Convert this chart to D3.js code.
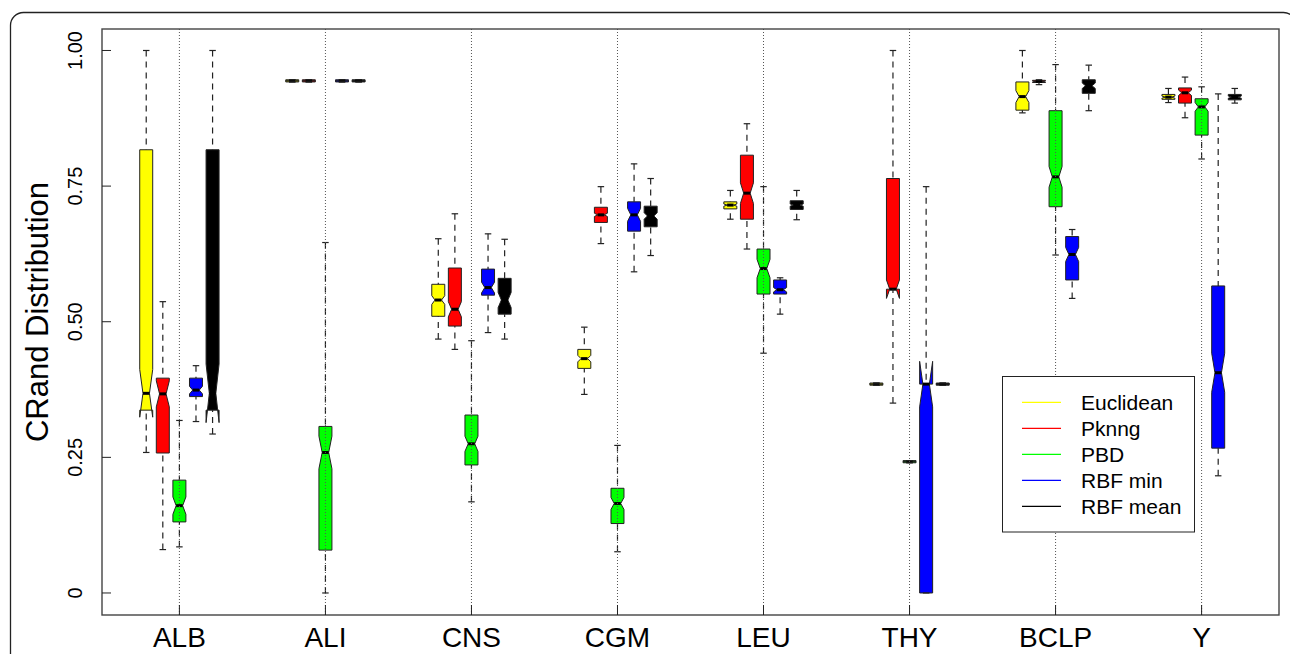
<!DOCTYPE html>
<html><head><meta charset="utf-8">
<script src="https://cdn.jsdelivr.net/npm/d3@7"></script>
<style>html,body{margin:0;padding:0;background:#fff;} svg{display:block;font-family:"Liberation Sans",Arial,Helvetica,sans-serif;}</style>
</head><body><svg id="chart" width="1290" height="654"></svg>
<script>
// ---- data ----
const categories = ["ALB", "ALI", "CNS", "CGM", "LEU", "THY", "BCLP", "Y"];
const seriesNames = ["Euclidean", "Pknng", "PBD", "RBF min", "RBF mean"];
const yTicks = [0, 0.25, 0.5, 0.75, 1];
const yTickLabels = ["0", "0.25", "0.50", "0.75", "1.00"];
const yTitle = "CRand Distribution";
// each box: [lower whisker, lower hinge, median, upper hinge, upper whisker, notch half-width]
const euclidean = [
  [0.259, 0.337, 0.368, 0.817, 1.000, 0.044],
  [0.942, 0.942, 0.944, 0.946, 0.946, 0],
  [0.468, 0.510, 0.540, 0.569, 0.653, 0.008],
  [0.366, 0.414, 0.432, 0.449, 0.490, 0.006],
  [0.689, 0.708, 0.715, 0.721, 0.742, 0.002],
  [0.383, 0.383, 0.385, 0.387, 0.387, 0],
  [0.885, 0.890, 0.915, 0.942, 1.000, 0.011],
  [0.904, 0.910, 0.914, 0.919, 0.930, 0.002]
];
const pknng = [
  [0.080, 0.258, 0.367, 0.396, 0.537, 0.024],
  [0.942, 0.942, 0.944, 0.946, 0.946, 0],
  [0.449, 0.492, 0.523, 0.599, 0.699, 0.014],
  [0.644, 0.683, 0.697, 0.711, 0.749, 0.003],
  [0.634, 0.689, 0.737, 0.807, 0.865, 0.019],
  [0.350, 0.560, 0.560, 0.764, 1.000, 0.017],
  [0.937, 0.941, 0.943, 0.945, 0.946, 0.001],
  [0.876, 0.903, 0.922, 0.931, 0.951, 0.005]
];
const pbd = [
  [0.085, 0.131, 0.161, 0.208, 0.318, 0.016],
  [0.000, 0.079, 0.259, 0.307, 0.646, 0.030],
  [0.168, 0.236, 0.275, 0.328, 0.465, 0.014],
  [0.076, 0.128, 0.165, 0.193, 0.272, 0.011],
  [0.442, 0.551, 0.598, 0.634, 0.749, 0.017],
  [0.240, 0.240, 0.242, 0.244, 0.244, 0],
  [0.623, 0.712, 0.767, 0.889, 0.974, 0.019],
  [0.800, 0.844, 0.896, 0.911, 0.933, 0.008]
];
const rbfMin = [
  [0.316, 0.362, 0.374, 0.396, 0.419, 0.007],
  [0.942, 0.942, 0.944, 0.946, 0.946, 0],
  [0.480, 0.549, 0.563, 0.597, 0.662, 0.010],
  [0.592, 0.667, 0.697, 0.721, 0.791, 0.012],
  [0.514, 0.551, 0.559, 0.577, 0.581, 0.004],
  [0.000, 0.000, 0.385, 0.385, 0.749, 0.042],
  [0.543, 0.577, 0.624, 0.657, 0.670, 0.013],
  [0.216, 0.267, 0.406, 0.566, 0.920, 0.036]
];
const rbfMean = [
  [0.293, 0.337, 0.368, 0.817, 1.000, 0.054],
  [0.942, 0.942, 0.944, 0.946, 0.946, 0],
  [0.468, 0.514, 0.540, 0.580, 0.652, 0.014],
  [0.622, 0.675, 0.695, 0.713, 0.764, 0.006],
  [0.688, 0.707, 0.715, 0.723, 0.742, 0.002],
  [0.383, 0.383, 0.385, 0.387, 0.387, 0],
  [0.889, 0.921, 0.935, 0.946, 0.973, 0.005],
  [0.903, 0.909, 0.914, 0.919, 0.930, 0.002]
];
const seriesData = [euclidean, pknng, pbd, rbfMin, rbfMean];
const seriesColors = ["#ffff00", "#ff0000", "#00ff00", "#0000ff", "#000000"];

// ---- layout ----
const svg = d3.select("#chart");
const P = {left: 102, right: 1279, top: 29, bottom: 615};
const x = d3.scaleLinear().domain([0.47, 8.53]).range([P.left, P.right]);
const y = d3.scaleLinear().domain([-0.0406, 1.0396]).range([P.bottom, P.top]);
const step = 0.1136, halfW = 0.0445, notchFrac = 0.5, stapleWex = 0.5;

// outer frame
svg.append("rect").attr("x", 10.5).attr("y", 12.5).attr("width", 1286).attr("height", 700)
  .attr("rx", 13).attr("fill", "none").attr("stroke", "#222").attr("stroke-width", 1.3);

const g = svg.append("g");
seriesData.forEach((data, si) => {
  data.forEach((d, ci) => {
    const [lo, q1, med, q3, hi, nh] = d;
    const cx = (ci + 1) + (si - 2) * step;
    const c1 = med - nh, c2 = med + nh;
    const xs = [-1, 1, 1, notchFrac, 1, 1, -1, -1, -notchFrac, -1].map(k => x(cx + k * halfW));
    const ys = [q1, q1, c1, med, c2, q3, q3, c2, med, c1].map(v => y(v));
    const bg = g.append("g");
    bg.append("polygon").attr("points", xs.map((xx, i) => xx + "," + ys[i]).join(" "))
      .attr("fill", seriesColors[si]).attr("stroke", "#222").attr("stroke-width", 1).attr("stroke-linejoin", "round");
    bg.append("line").attr("x1", x(cx - notchFrac * halfW)).attr("x2", x(cx + notchFrac * halfW))
      .attr("y1", y(med)).attr("y2", y(med)).attr("stroke", "#000").attr("stroke-width", 3);
    // whiskers
    [[lo, q1], [hi, q3]].forEach(([a, b]) => {
      if (a !== b) bg.append("line").attr("x1", x(cx)).attr("x2", x(cx)).attr("y1", y(a)).attr("y2", y(b))
        .attr("stroke", "#222").attr("stroke-width", 1.2).attr("stroke-dasharray", "6,5");
      bg.append("line").attr("x1", x(cx - stapleWex * halfW)).attr("x2", x(cx + stapleWex * halfW))
        .attr("y1", y(a)).attr("y2", y(a)).attr("stroke", "#222").attr("stroke-width", 1.2);
    });
  });
});

// dotted group lines
svg.append("g").selectAll("line").data(categories).join("line")
  .attr("x1", (d, i) => x(i + 1)).attr("x2", (d, i) => x(i + 1))
  .attr("y1", P.top).attr("y2", P.bottom)
  .attr("stroke", "#555").attr("stroke-width", 1).attr("stroke-dasharray", "1,2");

// plot box
svg.append("rect").attr("x", P.left).attr("y", P.top).attr("width", P.right - P.left).attr("height", P.bottom - P.top)
  .attr("fill", "none").attr("stroke", "#444").attr("stroke-width", 1.4);

// y axis (inward ticks)
const ya = svg.append("g");
ya.selectAll("line").data(yTicks).join("line")
  .attr("x1", P.left).attr("x2", P.left + 9).attr("y1", d => y(d)).attr("y2", d => y(d))
  .attr("stroke", "#222").attr("stroke-width", 1);
ya.selectAll("text").data(yTicks).join("text")
  .attr("transform", d => `translate(82,${y(d)}) rotate(-90)`)
  .attr("text-anchor", "middle").attr("font-size", 20).attr("fill", "#000")
  .text((d, i) => yTickLabels[i]);
svg.append("text").attr("transform", "translate(48,312) rotate(-90)")
  .attr("text-anchor", "middle").attr("font-size", 31).attr("fill", "#000").text(yTitle);

// x axis
const xa = svg.append("g");
xa.selectAll("line").data(categories).join("line")
  .attr("x1", (d, i) => x(i + 1)).attr("x2", (d, i) => x(i + 1))
  .attr("y1", P.bottom).attr("y2", P.bottom - 10).attr("stroke", "#222").attr("stroke-width", 1);
xa.selectAll("text").data(categories).join("text")
  .attr("x", (d, i) => x(i + 1)).attr("y", 647)
  .attr("text-anchor", "middle").attr("font-size", 28).attr("fill", "#000").text(d => d);

// legend
const lg = svg.append("g");
lg.append("rect").attr("x", 1002.5).attr("y", 376.5).attr("width", 192).attr("height", 155.5)
  .attr("fill", "#fff").attr("stroke", "#222").attr("stroke-width", 1);
seriesNames.forEach((n, i) => {
  const yy = 402.3 + 26 * i;
  lg.append("line").attr("x1", 1022).attr("x2", 1061).attr("y1", yy).attr("y2", yy)
    .attr("stroke", seriesColors[i]).attr("stroke-width", 1.2);
  lg.append("text").attr("x", 1081).attr("y", yy).attr("dy", "0.35em")
    .attr("font-size", 21).attr("fill", "#000").text(n);
});
</script></body></html>
